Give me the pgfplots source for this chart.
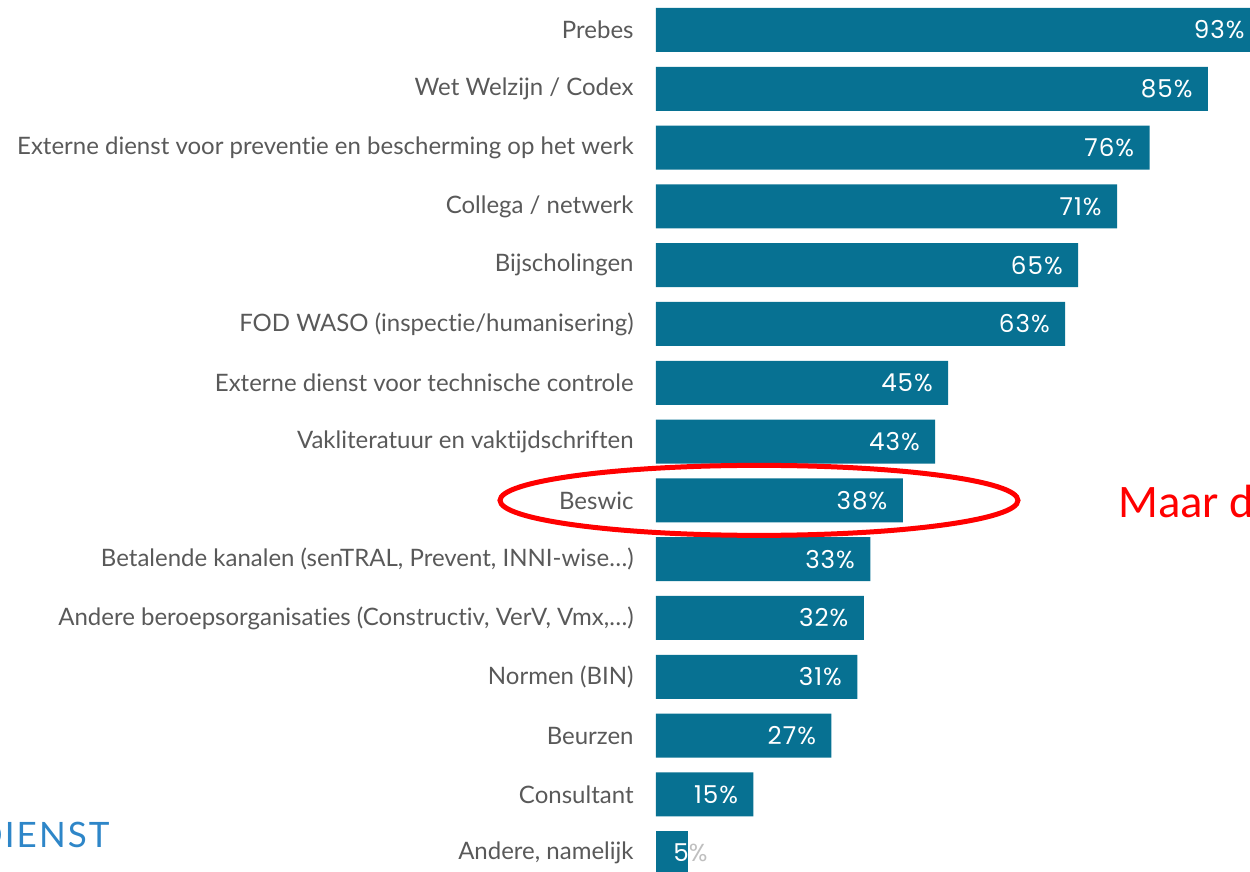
\documentclass[border=0pt]{standalone}
\usepackage{pgfplots}
\pgfplotsset{compat=1.18}
\usepackage{fontspec}
\setmainfont{Lato}[Ligatures=NoCommon]
\newfontfamily\barfont{Poppins}[LetterSpace=4]
\newfontfamily\calib{Carlito}
\newfontfamily\logofont{Lato}[LetterSpace=6]
\definecolor{barc}{HTML}{077192}
\definecolor{labc}{HTML}{595959}
\definecolor{logoc}{HTML}{2E86C8}
\begin{document}
\begin{tikzpicture}
\begin{axis}[
  name=ax,
  scale only axis,
  width=324.7pt, height=436pt,
  xmin=0, xmax=100,
  ymin=-0.51, ymax=14.32,
  y dir=reverse,
  axis line style={draw=none},
  xtick=\empty,
  ytick={0,...,14},
  major tick length=0pt,
  /pgf/number format/assume math mode=true,
  yticklabels={Prebes, Wet Welzijn / Codex, Externe dienst voor preventie en bescherming op het werk, Collega / netwerk, Bijscholingen, FOD WASO (inspectie/humanisering), Externe dienst voor technische controle, Vakliteratuur en vaktijdschriften, Beswic, {Betalende kanalen (senTRAL, Prevent, INNI-wise…)}, {Andere beroepsorganisaties (Constructiv, VerV, Vmx,…)}, Normen (BIN), Beurzen, Consultant, {Andere, namelijk}},
  yticklabel style={anchor=east, inner sep=0pt, xshift=-11pt, text=labc, font=\fontsize{12}{14}\selectfont},
  xbar, bar width=22pt, bar shift=0pt,
]
\addplot[fill=barc, draw=none,
  nodes near coords={\pgfmathprintnumber{\pgfplotspointmeta}\%},
  every node near coord/.append style={anchor=east, inner sep=0pt, xshift=-7.5pt, text=white, font=\barfont\fontsize{12.3}{14}\selectfont}]
  coordinates {(93,0) (85,1) (76,2) (71,3) (65,4) (63,5) (45,6) (43,7) (38,8) (33,9) (32,10) (31,11) (27,12) (15,13)};
\addplot[fill=barc, draw=none,
  nodes near coords={5{\color{black!25}\%}},
  every node near coord/.append style={anchor=east, inner sep=0pt, xshift=9.75pt, text=white, font=\barfont\fontsize{12.3}{14}\selectfont}]
  coordinates {(5,14)};
\coordinate (ell) at (axis cs:15.86,8);
\coordinate (maar) at (axis cs:71.14,8.29);
\end{axis}
\draw[red, line width=2.5pt] (ell) ellipse [x radius=129.5pt, y radius=17.5pt];
\node[anchor=base west, inner sep=0pt, text=red, font=\calib\fontsize{23.3}{26}\selectfont] at (maar) {Maar d};
\node[anchor=base east, inner sep=0pt, text=logoc, font=\logofont\fontsize{17.5}{20}\selectfont] at ([xshift=-273pt, yshift=12pt]ax.south west) {DIENST};
\pgfresetboundingbox
\path[use as bounding box] ([xshift=-328pt]ax.south west) rectangle ([xshift=297pt]ax.north west);
\end{tikzpicture}
\end{document}
